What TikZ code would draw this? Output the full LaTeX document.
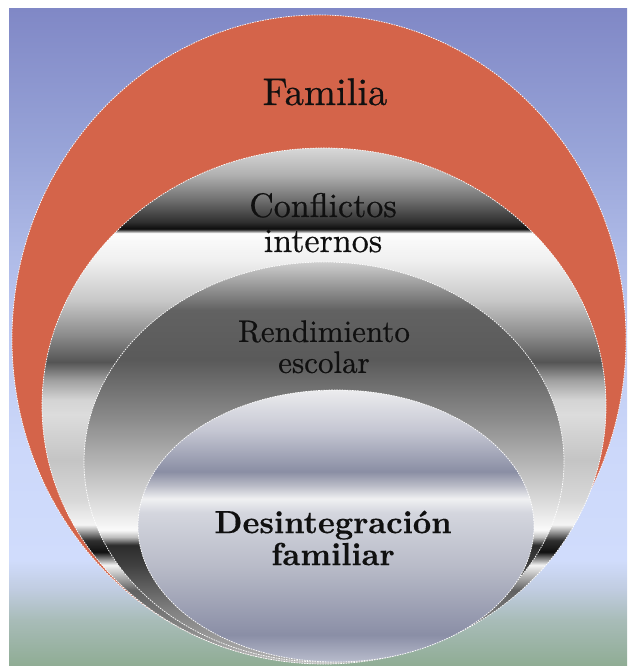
\documentclass[tikz,border=0pt]{standalone}
\usepackage{fontspec}
\newfontfamily\labelserif{lmroman10-regular}[Extension=.otf, FakeBold=0.6]
\newfontfamily\labelbold{lmroman10-bold}[Extension=.otf, FakeBold=0.3]
\definecolor{familiared}{HTML}{D4644A}
\definecolor{inktext}{HTML}{101010}
\pgfdeclareverticalshading{bgshade}{100bp}{%
 rgb(0bp)=(0.561,0.675,0.58); rgb(25bp)=(0.561,0.675,0.58);
 rgb(28.5bp)=(0.659,0.737,0.722); rgb(30.8bp)=(0.753,0.8,0.878);
 rgb(33.05bp)=(0.816,0.863,0.988); rgb(41.45bp)=(0.8,0.847,0.98);
 rgb(52.85bp)=(0.722,0.769,0.933); rgb(64.25bp)=(0.596,0.643,0.847);
 rgb(75bp)=(0.502,0.533,0.776); rgb(100bp)=(0.502,0.533,0.776)}
\pgfdeclareverticalshading{conflshade}{100bp}{%
 gray(0bp)=(0.753); gray(25bp)=(0.753); gray(28.3bp)=(0.533);
 gray(32.15bp)=(0.376); gray(34.6bp)=(0.957); gray(35.85bp)=(0.063);
 gray(37bp)=(0.188); gray(38.5bp)=(0.957); gray(40.9bp)=(0.847);
 gray(44.75bp)=(0.769); gray(49.15bp)=(0.863); gray(50.6bp)=(0.831);
 gray(52.5bp)=(0.627); gray(54.25bp)=(0.333); gray(56.9bp)=(0.549);
 gray(60.25bp)=(0.784); gray(64.15bp)=(0.941); gray(66.75bp)=(0.988);
 gray(67.15bp)=(0.047); gray(67.85bp)=(0.188); gray(70bp)=(0.439);
 gray(72.4bp)=(0.69); gray(75bp)=(0.847); gray(100bp)=(0.847)}
\pgfdeclareverticalshading{rendshade}{100bp}{%
 gray(0bp)=(0.69); gray(25bp)=(0.69); gray(31.5bp)=(0.502);
 gray(37.125bp)=(0.251); gray(39.625bp)=(0.173); gray(40.625bp)=(0.741);
 gray(41.5bp)=(0.98); gray(44bp)=(0.894); gray(49bp)=(0.737);
 gray(55.25bp)=(0.549); gray(62.75bp)=(0.353); gray(69bp)=(0.384);
 gray(72.125bp)=(0.604); gray(75bp)=(0.812); gray(100bp)=(0.812)}
\pgfdeclareverticalshading{desshade}{100bp}{%
 rgb(0bp)=(0.722,0.737,0.8); rgb(25bp)=(0.722,0.737,0.8);
 rgb(30bp)=(0.541,0.557,0.651); rgb(42.5bp)=(0.722,0.733,0.784);
 rgb(52.5bp)=(0.831,0.839,0.871); rgb(55bp)=(0.941,0.941,0.949);
 rgb(57.5bp)=(0.722,0.729,0.776); rgb(60bp)=(0.541,0.557,0.643);
 rgb(67.5bp)=(0.769,0.776,0.824); rgb(75bp)=(0.925,0.925,0.933);
 rgb(100bp)=(0.925,0.925,0.933)}
\tikzset{
 rim/.style={draw=white, line width=0.7pt, dash pattern=on 1.6pt off 1pt},
 lbl/.style={inner sep=0pt, align=center, text=inktext}
}
\begin{document}
\begin{tikzpicture}[x=1pt,y=1pt]
\useasboundingbox (0,0) rectangle (627,666);
\fill[white] (0,0) rectangle (627,666);
\shade[shading=bgshade] (9,0) rectangle (627,657);
% outer circle
\path[fill=familiared, rim] (319,327) ellipse [x radius=307pt, y radius=324pt];
\node[lbl, anchor=base, font=\labelserif\fontsize{38.5}{38.5}\selectfont] (familia) at (325,561) {Familia};
% Conflictos internos
\path[shading=conflshade, rim] (324,260) ellipse [x radius=282pt, y radius=258pt];
\node[lbl, font=\labelserif\fontsize{34}{35}\selectfont] (conflictos) at (323,443.3) {Conflictos\\internos};
% Rendimiento escolar
\path[shading=rendshade, rim] (324,204) ellipse [x radius=240pt, y radius=200pt];
\node[lbl, font=\labelserif\fontsize{31}{31}\selectfont] (rendimiento) at (324,319.2) {Rendimiento\\escolar};
% Desintegracion familiar
\path[shading=desshade, rim] (336,140) ellipse [x radius=198pt, y radius=136pt];
\node[lbl, font=\labelbold\fontsize{32}{32}\selectfont] (desintegracion) at (333,128) {Desintegración\\familiar};
\end{tikzpicture}
\end{document}
